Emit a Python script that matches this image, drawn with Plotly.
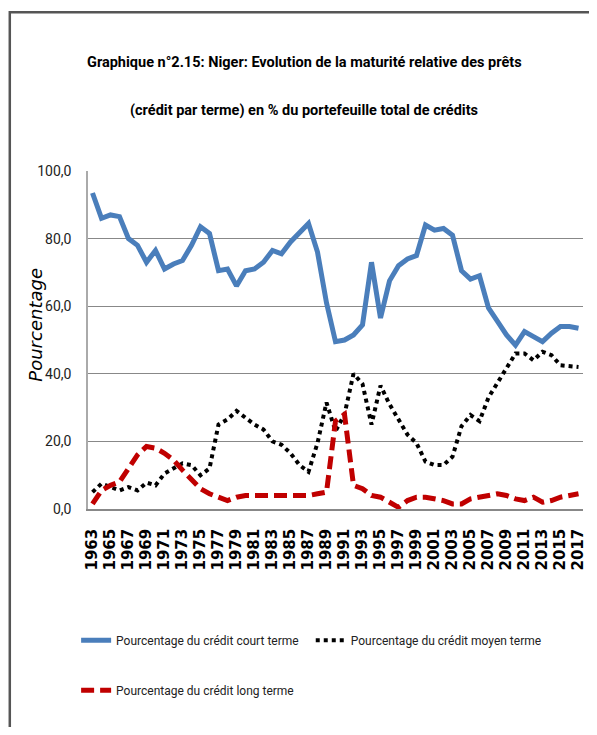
import plotly.graph_objects as go

# years on the category axis
years = list(range(1963, 2018))

# Pourcentage du crédit court terme
court = [93.5, 86, 87, 86.5, 80, 78, 73, 76.5, 71, 72.5,
         73.5, 78, 83.5, 81.5, 70.5, 71, 66, 70.5, 71, 73,
         76.5, 75.5, 79, 82, 84.5, 76, 61, 49.5, 50, 51.5,
         54.5, 73, 56.5, 67.5, 72, 74, 75, 84, 82.5, 83,
         81, 70.5, 68, 69, 59.5, 55.5, 51.5, 48.5, 52.5, 51,
         49.5, 52, 54, 54, 53.5]

# Pourcentage du crédit moyen terme
moyen = [5, 7.5, 6.5, 5.5, 6.5, 5.5, 7.8, 7, 10.5, 12,
         13.5, 13, 10, 12, 25, 26.5, 29, 27, 25, 23.5,
         20, 19, 16.5, 13, 11, 19.5, 31.5, 23, 28, 40,
         37, 25, 36.5, 31, 26.5, 22, 19.5, 14, 13, 13,
         15.5, 24.5, 27.8, 26, 33, 37.5, 41.5, 46, 46, 44,
         46.5, 45.5, 42.5, 42.3, 42]

# Pourcentage du crédit long terme
long_ = [1.5, 5.5, 7, 8, 12, 16, 18.5, 18, 16.5, 14.5,
         11.5, 8.5, 6, 4.5, 3.5, 2.5, 3.5, 4, 4, 4,
         4, 4, 4, 4, 4, 4.5, 5, 26, 28, 7,
         6, 4, 3.5, 2, 0.5, 2.5, 3.5, 3.5, 3, 2.5,
         1.5, 1.5, 3, 3.5, 4, 4.5, 4, 3, 2.5, 3.5,
         2, 2.5, 3.5, 4, 4.5]

y_ticks = [0, 20, 40, 60, 80, 100]
y_labels = ["0,0", "20,0", "40,0", "60,0", "80,0", "100,0"]
x_ticks = list(range(1963, 2018, 2))

narrow = "Roboto, Liberation Sans, sans-serif"

fig = go.Figure()
fig.add_trace(go.Scatter(x=years, y=court, mode="lines", name="Pourcentage du crédit court terme",
                         line=dict(color="#4A7EBB", width=5), legend="legend"))
fig.add_trace(go.Scatter(x=years, y=moyen, mode="lines", name="Pourcentage du crédit moyen terme",
                         line=dict(color="black", width=4, dash="dot"), legend="legend2"))
fig.add_trace(go.Scatter(x=years, y=long_, mode="lines", name="Pourcentage du crédit long terme",
                         line=dict(color="#C00000", width=5, dash="13px,6px"), legend="legend3"))

legend_style = dict(orientation="h", xanchor="left", yanchor="middle", bgcolor="rgba(0,0,0,0)",
                    font=dict(family=narrow, size=12, color="#222"))

# page body has an 8px margin, so the figure is 8px smaller than the window on each side used
fig.update_layout(
    width=589, height=719,
    margin=dict(l=80, r=10, t=163, b=218),
    plot_bgcolor="white", paper_bgcolor="white",
    showlegend=True,
    legend=dict(x=-0.024, y=-0.388, **legend_style),
    legend2=dict(x=0.45, y=-0.388, **legend_style),
    legend3=dict(x=-0.024, y=-0.536, **legend_style),
    annotations=[
        dict(text="Graphique n°2.15: Niger: Evolution de la maturité relative des prêts",
             x=0.437, y=1.322, xref="paper", yref="paper", showarrow=False,
             xanchor="center", yanchor="middle",
             font=dict(family=narrow, size=14.5, color="black", weight="bold")),
        dict(text="(crédit par terme) en % du portefeuille total de crédits",
             x=0.437, y=1.180, xref="paper", yref="paper", showarrow=False,
             xanchor="center", yanchor="middle",
             font=dict(family=narrow, size=14.5, color="black", weight="bold")),
        dict(text="Pourcentage", textangle=-90, x=-0.106, y=0.544, xref="paper", yref="paper",
             showarrow=False, xanchor="center", yanchor="middle",
             font=dict(family="DejaVu Sans", size=18, color="black", style="italic")),
    ],
    shapes=[
        dict(type="rect", xref="paper", yref="paper", x0=-0.158, x1=1.2, y0=-0.8, y1=1.47,
             line=dict(color="#555", width=2.5)),
    ],
)
fig.update_xaxes(range=[1962.5, 2017.5], tickvals=x_ticks, tickangle=-90, showgrid=False,
                 showline=True, linecolor="#888", linewidth=1.5, ticks="", ticklabelstandoff=12,
                 tickfont=dict(family="DejaVu Sans", size=15, color="black", weight="bold"))
fig.update_yaxes(range=[0, 100], tickvals=y_ticks, ticktext=y_labels, showgrid=True,
                 gridcolor="#888", gridwidth=1.2, zeroline=False, showline=True, linecolor="#aaa",
                 linewidth=1.5, ticks="", ticklabelstandoff=12,
                 tickfont=dict(family=narrow, size=14, color="#222"))

fig.write_html("out.html")
